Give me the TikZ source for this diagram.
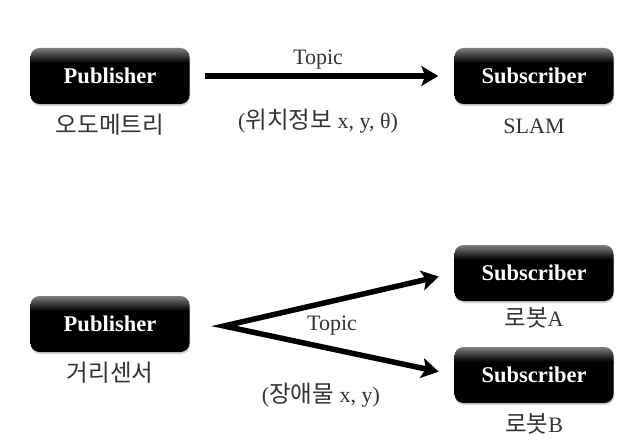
\documentclass[tikz,border=0pt]{standalone}
\usepackage{fontspec}
\setmainfont{Liberation Serif}
\newfontfamily\krfont[Scale=1.07]{Noto Sans CJK KR}
\usetikzlibrary{arrows.meta,shadows}
\pgfdeclareverticalshading{glossy}{100bp}{color(0bp)=(black); color(25bp)=(black); color(62bp)=(black); color(75bp)=(black!50); color(100bp)=(black!50)}

\begin{document}
\begin{tikzpicture}[x=1pt, y=-1pt,
    box/.style={rounded corners=9pt, shading=glossy, minimum width=159pt, minimum height=56pt, inner sep=0pt, text=white, font=\fontsize{22.5}{26}\selectfont\bfseries, drop shadow={opacity=0.35, shadow xshift=0.5pt, shadow yshift=-2pt}},
    note/.style={text=black!80, font=\fontsize{22}{26}\selectfont, inner sep=0pt},
    flow/.style={line width=5.5pt, -{Stealth[length=17pt, width=20pt, inset=4pt]}, shorten >=16pt},
    split/.style={line width=5.5pt, {Stealth[length=17pt, width=20pt, inset=4pt]}-{Stealth[length=17pt, width=20pt, inset=4pt]}, shorten >=16pt, shorten <=16pt}]
        \useasboundingbox (0,0) rectangle (640,444);
        % Define the nodes
        \node[box] (pub1) at (110,76) {Publisher};
        \node[box] (sub1) at (534,76) {Subscriber};
        \node[box] (pub2) at (110,324) {Publisher};
        \node[box] (subA) at (534,273) {Subscriber};
        \node[box] (subB) at (534,375) {Subscriber};
        \coordinate (fork) at (224,326);

        % Labels
        \node[note] (odom) at (110,125) {\krfont 오도메트리};
        \node[note] (slam) at (534,126) {SLAM};
        \node[note] (dist) at (110,373) {\krfont 거리센서};
        \node[note] (robA) at (534,318) {{\krfont 로봇}A};
        \node[note] (robB) at (534,424) {{\krfont 로봇}B};
        \node[note] (topic1) at (318,60) {Topic};
        \node[note] (pose) at (318,121) {({\krfont 위치정보} x, y, θ)};
        \node[note] (topic2) at (332,326) {Topic};
        \node[note] (obst) at (321,395) {({\krfont 장애물} x, y)};

        % Connections
        \draw[flow, shorten <=15pt] (pub1) -- (sub1);
        \draw[split] (subA.west) -- (fork) -- (subB.west);
    \end{tikzpicture}
\end{document}
